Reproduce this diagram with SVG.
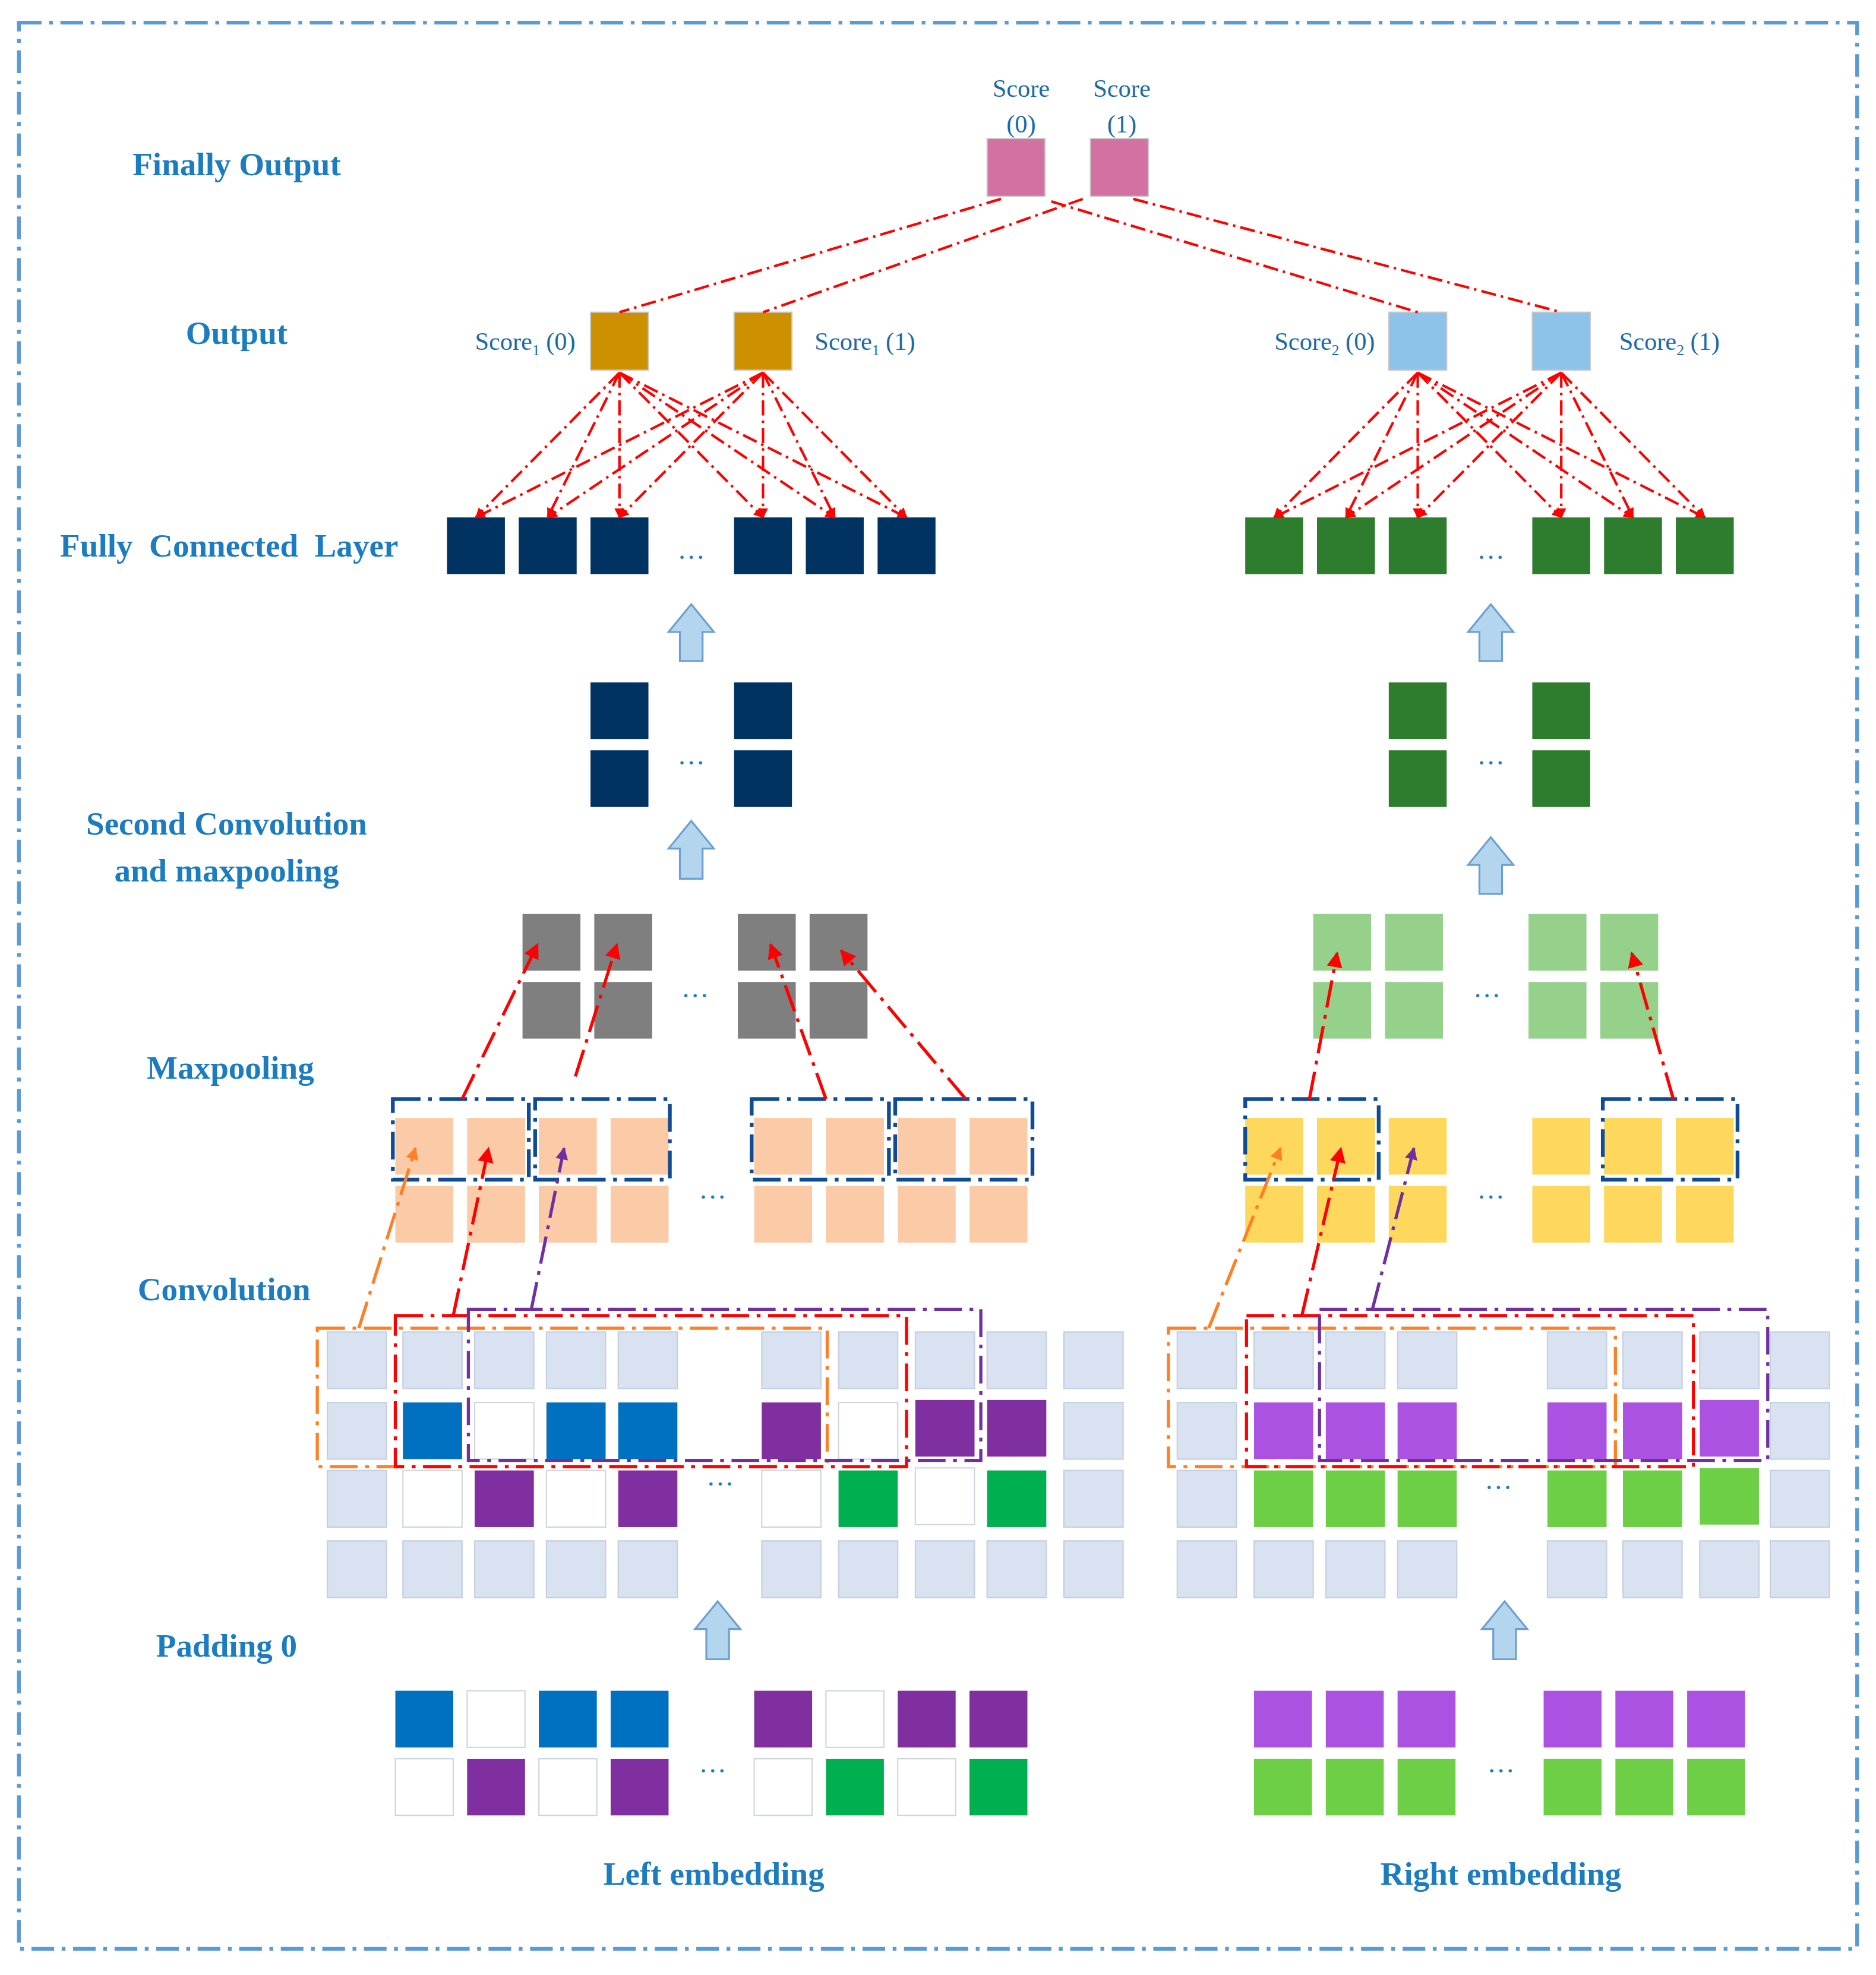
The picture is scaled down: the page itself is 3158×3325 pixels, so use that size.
<svg xmlns="http://www.w3.org/2000/svg" width="3158" height="3325" viewBox="0 0 3158 3325">
<style>
.lbl{font-family:"Liberation Serif",serif;font-weight:bold;font-size:26px;fill:#1b7cc0;text-anchor:middle}
.sc{font-family:"Liberation Serif",serif;font-size:20px;fill:#1b6aa8}
.dots{font-family:"Liberation Serif",serif;font-size:22px;fill:#1b7cc0;text-anchor:middle}
.navy{fill:#003361}.grn{fill:#2e7d2e}.gray{fill:#7f7f7f}.lgrn{fill:#95d18a}
.peach{fill:#fbcaa6}.yel{fill:#fdd85d}.pad{fill:#d9e2f1;stroke:#c4cfe0;stroke-width:1}
.blu{fill:#0070c0}.pur{fill:#7f2fa0}.wht{fill:#fff;stroke:#cfd5de;stroke-width:1}.gr2{fill:#00b050}
.vio{fill:#ab52e3}.lim{fill:#6ccf45}
.rl{stroke:#f00;stroke-width:2;fill:none;stroke-dasharray:12 4 2 4}
.ra{stroke:#f00;stroke-width:2.5;fill:none;stroke-dasharray:22 6 3 6}
.oa{stroke:#ff7f27;stroke-width:2.5;fill:none;stroke-dasharray:22 6 3 6}
.pa{stroke:#7030a0;stroke-width:2.5;fill:none;stroke-dasharray:22 6 3 6}
.bw{stroke:#0f4c96;stroke-width:3;fill:none;stroke-dasharray:22 6 3 6}
.up{fill:#b4d5ee;stroke:#6c9fd0;stroke-width:1.5}
</style>
<defs>
<marker id="ah" viewBox="0 0 10 10" refX="9" refY="5" markerWidth="5" markerHeight="5" orient="auto"><path d="M0,0L10,5L0,10Z" fill="#f00"/></marker>
<marker id="ahs" viewBox="0 0 10 10" refX="9" refY="5" markerWidth="4" markerHeight="4" orient="auto"><path d="M0,0L10,5L0,10Z" fill="#f00"/></marker>
<marker id="aho" viewBox="0 0 10 10" refX="9" refY="5" markerWidth="4" markerHeight="4" orient="auto"><path d="M0,0L10,5L0,10Z" fill="#ff7f27"/></marker>
<marker id="ahp" viewBox="0 0 10 10" refX="9" refY="5" markerWidth="4" markerHeight="4" orient="auto"><path d="M0,0L10,5L0,10Z" fill="#7030a0"/></marker>
</defs>
<rect width="3158" height="3325" fill="#fff"/>
<g transform="scale(2.1195)">
<rect x="15" y="18" width="1460" height="1530" fill="none" stroke="#5b9bd5" stroke-width="3" stroke-dasharray="18 6 3 6"/>
<g id="labels">
<text class="lbl" x="188" y="139">Finally Output</text>
<text class="lbl" x="188" y="273">Output</text>
<text class="lbl" x="182" y="442" xml:space="preserve">Fully  Connected  Layer</text>
<text class="lbl" x="180" y="663">Second Convolution</text>
<text class="lbl" x="180" y="700">and maxpooling</text>
<text class="lbl" x="183" y="857">Maxpooling</text>
<text class="lbl" x="178" y="1033">Convolution</text>
<text class="lbl" x="180" y="1316">Padding 0</text>
<text class="lbl" x="567" y="1497">Left embedding</text>
<text class="lbl" x="1192" y="1497">Right embedding</text>
</g>
<g id="final">
<rect x="784" y="110" width="46" height="46" fill="#d471a3" stroke="#c9c9c9"/>
<rect x="866" y="110" width="46" height="46" fill="#d471a3" stroke="#c9c9c9"/>
<text class="sc" x="811" y="77" text-anchor="middle">Score</text>
<text class="sc" x="811" y="105" text-anchor="middle">(0)</text>
<text class="sc" x="891" y="77" text-anchor="middle">Score</text>
<text class="sc" x="891" y="105" text-anchor="middle">(1)</text>
</g>
<g id="output">
<rect x="469" y="248" width="46" height="46" fill="#cc9000" stroke="#c9c9c9"/>
<rect x="583" y="248" width="46" height="46" fill="#cc9000" stroke="#c9c9c9"/>
<rect x="1103" y="248" width="46" height="46" fill="#8dc3e8" stroke="#c9c9c9"/>
<rect x="1217" y="248" width="46" height="46" fill="#8dc3e8" stroke="#c9c9c9"/>
<text class="sc" x="457" y="278" text-anchor="end">Score<tspan font-size="12" dy="4">1</tspan><tspan dy="-4"> (0)</tspan></text>
<text class="sc" x="647" y="278">Score<tspan font-size="12" dy="4">1</tspan><tspan dy="-4"> (1)</tspan></text>
<text class="sc" x="1092" y="278" text-anchor="end">Score<tspan font-size="12" dy="4">2</tspan><tspan dy="-4"> (0)</tspan></text>
<text class="sc" x="1286" y="278">Score<tspan font-size="12" dy="4">2</tspan><tspan dy="-4"> (1)</tspan></text>
</g>
<g id="fc">
<rect class="navy" x="355" y="411" width="46" height="45"/><rect class="navy" x="412" y="411" width="46" height="45"/><rect class="navy" x="469" y="411" width="46" height="45"/>
<rect class="navy" x="583" y="411" width="46" height="45"/><rect class="navy" x="640" y="411" width="46" height="45"/><rect class="navy" x="697" y="411" width="46" height="45"/>
<rect class="grn" x="989" y="411" width="46" height="45"/><rect class="grn" x="1046" y="411" width="46" height="45"/><rect class="grn" x="1103" y="411" width="46" height="45"/>
<rect class="grn" x="1217" y="411" width="46" height="45"/><rect class="grn" x="1274" y="411" width="46" height="45"/><rect class="grn" x="1331" y="411" width="46" height="45"/>
<text class="dots" x="549" y="444">…</text><text class="dots" x="1184" y="444">…</text>
</g>
<g id="conv2">
<rect class="navy" x="469" y="542" width="46" height="45"/><rect class="navy" x="469" y="596" width="46" height="45"/>
<rect class="navy" x="583" y="542" width="46" height="45"/><rect class="navy" x="583" y="596" width="46" height="45"/>
<rect class="grn" x="1103" y="542" width="46" height="45"/><rect class="grn" x="1103" y="596" width="46" height="45"/>
<rect class="grn" x="1217" y="542" width="46" height="45"/><rect class="grn" x="1217" y="596" width="46" height="45"/>
<text class="dots" x="549" y="607">…</text><text class="dots" x="1184" y="607">…</text>
</g>
<g id="maxpool">
<rect class="gray" x="415" y="726" width="46" height="45"/><rect class="gray" x="472" y="726" width="46" height="45"/><rect class="gray" x="586" y="726" width="46" height="45"/><rect class="gray" x="643" y="726" width="46" height="45"/>
<rect class="gray" x="415" y="780" width="46" height="45"/><rect class="gray" x="472" y="780" width="46" height="45"/><rect class="gray" x="586" y="780" width="46" height="45"/><rect class="gray" x="643" y="780" width="46" height="45"/>
<rect class="lgrn" x="1043" y="726" width="46" height="45"/><rect class="lgrn" x="1100" y="726" width="46" height="45"/><rect class="lgrn" x="1214" y="726" width="46" height="45"/><rect class="lgrn" x="1271" y="726" width="46" height="45"/>
<rect class="lgrn" x="1043" y="780" width="46" height="45"/><rect class="lgrn" x="1100" y="780" width="46" height="45"/><rect class="lgrn" x="1214" y="780" width="46" height="45"/><rect class="lgrn" x="1271" y="780" width="46" height="45"/>
<text class="dots" x="552" y="792">…</text><text class="dots" x="1181" y="792">…</text>
</g>
<g id="conv">
<rect class="peach" x="314" y="888" width="46" height="45"/><rect class="peach" x="371" y="888" width="46" height="45"/><rect class="peach" x="428" y="888" width="46" height="45"/><rect class="peach" x="485" y="888" width="46" height="45"/>
<rect class="peach" x="599" y="888" width="46" height="45"/><rect class="peach" x="656" y="888" width="46" height="45"/><rect class="peach" x="713" y="888" width="46" height="45"/><rect class="peach" x="770" y="888" width="46" height="45"/>
<rect class="peach" x="314" y="942" width="46" height="45"/><rect class="peach" x="371" y="942" width="46" height="45"/><rect class="peach" x="428" y="942" width="46" height="45"/><rect class="peach" x="485" y="942" width="46" height="45"/>
<rect class="peach" x="599" y="942" width="46" height="45"/><rect class="peach" x="656" y="942" width="46" height="45"/><rect class="peach" x="713" y="942" width="46" height="45"/><rect class="peach" x="770" y="942" width="46" height="45"/>
<rect class="yel" x="989" y="888" width="46" height="45"/><rect class="yel" x="1046" y="888" width="46" height="45"/><rect class="yel" x="1103" y="888" width="46" height="45"/>
<rect class="yel" x="1217" y="888" width="46" height="45"/><rect class="yel" x="1274" y="888" width="46" height="45"/><rect class="yel" x="1331" y="888" width="46" height="45"/>
<rect class="yel" x="989" y="942" width="46" height="45"/><rect class="yel" x="1046" y="942" width="46" height="45"/><rect class="yel" x="1103" y="942" width="46" height="45"/>
<rect class="yel" x="1217" y="942" width="46" height="45"/><rect class="yel" x="1274" y="942" width="46" height="45"/><rect class="yel" x="1331" y="942" width="46" height="45"/>
<text class="dots" x="566" y="952">…</text><text class="dots" x="1184" y="952">…</text>
<rect class="bw" x="312" y="873" width="108" height="64"/><rect class="bw" x="425" y="873" width="107" height="64"/>
<rect class="bw" x="597" y="873" width="109" height="64"/><rect class="bw" x="711" y="873" width="109" height="64"/>
<rect class="bw" x="989" y="873" width="106" height="64"/><rect class="bw" x="1273" y="873" width="107" height="64"/>
</g>
<g id="padding">
<g class="pad">
<rect x="260" y="1058" width="47" height="45"/><rect x="320" y="1058" width="47" height="45"/><rect x="377" y="1058" width="47" height="45"/><rect x="434" y="1058" width="47" height="45"/><rect x="491" y="1058" width="47" height="45"/><rect x="605" y="1058" width="47" height="45"/><rect x="666" y="1058" width="47" height="45"/><rect x="727" y="1058" width="47" height="45"/><rect x="784" y="1058" width="47" height="45"/><rect x="845" y="1058" width="47" height="45"/>
<rect x="260" y="1114" width="47" height="45"/><rect x="845" y="1114" width="47" height="45"/>
<rect x="260" y="1168" width="47" height="45"/><rect x="845" y="1168" width="47" height="45"/>
<rect x="260" y="1224" width="47" height="45"/><rect x="320" y="1224" width="47" height="45"/><rect x="377" y="1224" width="47" height="45"/><rect x="434" y="1224" width="47" height="45"/><rect x="491" y="1224" width="47" height="45"/><rect x="605" y="1224" width="47" height="45"/><rect x="666" y="1224" width="47" height="45"/><rect x="727" y="1224" width="47" height="45"/><rect x="784" y="1224" width="47" height="45"/><rect x="845" y="1224" width="47" height="45"/>
<rect x="935" y="1058" width="47" height="45"/><rect x="996" y="1058" width="47" height="45"/><rect x="1053" y="1058" width="47" height="45"/><rect x="1110" y="1058" width="47" height="45"/><rect x="1229" y="1058" width="47" height="45"/><rect x="1289" y="1058" width="47" height="45"/><rect x="1350" y="1058" width="47" height="45"/><rect x="1406" y="1058" width="47" height="45"/>
<rect x="935" y="1114" width="47" height="45"/><rect x="1406" y="1114" width="47" height="45"/>
<rect x="935" y="1168" width="47" height="45"/><rect x="1406" y="1168" width="47" height="45"/>
<rect x="935" y="1224" width="47" height="45"/><rect x="996" y="1224" width="47" height="45"/><rect x="1053" y="1224" width="47" height="45"/><rect x="1110" y="1224" width="47" height="45"/><rect x="1229" y="1224" width="47" height="45"/><rect x="1289" y="1224" width="47" height="45"/><rect x="1350" y="1224" width="47" height="45"/><rect x="1406" y="1224" width="47" height="45"/>
</g>
<rect class="blu" x="320" y="1114" width="47" height="45"/><rect class="wht" x="377" y="1114" width="47" height="45"/><rect class="blu" x="434" y="1114" width="47" height="45"/><rect class="blu" x="491" y="1114" width="47" height="45"/>
<rect class="pur" x="605" y="1114" width="47" height="45"/><rect class="wht" x="666" y="1114" width="47" height="45"/><rect class="pur" x="727" y="1112" width="47" height="45"/><rect class="pur" x="784" y="1112" width="47" height="45"/>
<rect class="wht" x="320" y="1168" width="47" height="45"/><rect class="pur" x="377" y="1168" width="47" height="45"/><rect class="wht" x="434" y="1168" width="47" height="45"/><rect class="pur" x="491" y="1168" width="47" height="45"/>
<rect class="wht" x="605" y="1168" width="47" height="45"/><rect class="gr2" x="666" y="1168" width="47" height="45"/><rect class="wht" x="727" y="1166" width="47" height="45"/><rect class="gr2" x="784" y="1168" width="47" height="45"/>
<rect class="vio" x="996" y="1114" width="47" height="45"/><rect class="vio" x="1053" y="1114" width="47" height="45"/><rect class="vio" x="1110" y="1114" width="47" height="45"/>
<rect class="vio" x="1229" y="1114" width="47" height="45"/><rect class="vio" x="1289" y="1114" width="47" height="45"/><rect class="vio" x="1350" y="1112" width="47" height="45"/>
<rect class="lim" x="996" y="1168" width="47" height="45"/><rect class="lim" x="1053" y="1168" width="47" height="45"/><rect class="lim" x="1110" y="1168" width="47" height="45"/>
<rect class="lim" x="1229" y="1168" width="47" height="45"/><rect class="lim" x="1289" y="1168" width="47" height="45"/><rect class="lim" x="1350" y="1166" width="47" height="45"/>
<text class="dots" x="572" y="1180">…</text><text class="dots" x="1190" y="1183">…</text>
<rect class="oa" x="252" y="1055" width="405" height="110"/><rect class="ra" x="314" y="1045" width="406" height="120"/><rect class="pa" x="372" y="1040" width="407" height="120"/>
<rect class="oa" x="928" y="1055" width="355" height="110"/><rect class="ra" x="990" y="1045" width="355" height="120"/><rect class="pa" x="1048" y="1040" width="356" height="120"/>
</g>
<g id="embedding">
<rect class="blu" x="314" y="1343" width="46" height="45"/><rect class="wht" x="371" y="1343" width="46" height="45"/><rect class="blu" x="428" y="1343" width="46" height="45"/><rect class="blu" x="485" y="1343" width="46" height="45"/>
<rect class="pur" x="599" y="1343" width="46" height="45"/><rect class="wht" x="656" y="1343" width="46" height="45"/><rect class="pur" x="713" y="1343" width="46" height="45"/><rect class="pur" x="770" y="1343" width="46" height="45"/>
<rect class="wht" x="314" y="1397" width="46" height="45"/><rect class="pur" x="371" y="1397" width="46" height="45"/><rect class="wht" x="428" y="1397" width="46" height="45"/><rect class="pur" x="485" y="1397" width="46" height="45"/>
<rect class="wht" x="599" y="1397" width="46" height="45"/><rect class="gr2" x="656" y="1397" width="46" height="45"/><rect class="wht" x="713" y="1397" width="46" height="45"/><rect class="gr2" x="770" y="1397" width="46" height="45"/>
<rect class="vio" x="996" y="1343" width="46" height="45"/><rect class="vio" x="1053" y="1343" width="46" height="45"/><rect class="vio" x="1110" y="1343" width="46" height="45"/>
<rect class="vio" x="1226" y="1343" width="46" height="45"/><rect class="vio" x="1283" y="1343" width="46" height="45"/><rect class="vio" x="1340" y="1343" width="46" height="45"/>
<rect class="lim" x="996" y="1397" width="46" height="45"/><rect class="lim" x="1053" y="1397" width="46" height="45"/><rect class="lim" x="1110" y="1397" width="46" height="45"/>
<rect class="lim" x="1226" y="1397" width="46" height="45"/><rect class="lim" x="1283" y="1397" width="46" height="45"/><rect class="lim" x="1340" y="1397" width="46" height="45"/>
<text class="dots" x="566" y="1408">…</text><text class="dots" x="1192" y="1408">…</text>
</g>
<g id="connectors">
<path class="rl" d="M795,158L492,248M860,158L606,248M835,160L1126,248M900,158L1240,248"/>
<g marker-end="url(#ahs)">
<path class="rl" d="M492,296L378,411"/><path class="rl" d="M492,296L435,411"/><path class="rl" d="M492,296L492,411"/><path class="rl" d="M492,296L606,411"/><path class="rl" d="M492,296L663,411"/><path class="rl" d="M492,296L720,411"/>
<path class="rl" d="M606,296L378,411"/><path class="rl" d="M606,296L435,411"/><path class="rl" d="M606,296L492,411"/><path class="rl" d="M606,296L606,411"/><path class="rl" d="M606,296L663,411"/><path class="rl" d="M606,296L720,411"/>
<path class="rl" d="M1126,296L1012,411"/><path class="rl" d="M1126,296L1069,411"/><path class="rl" d="M1126,296L1126,411"/><path class="rl" d="M1126,296L1240,411"/><path class="rl" d="M1126,296L1297,411"/><path class="rl" d="M1126,296L1354,411"/>
<path class="rl" d="M1240,296L1012,411"/><path class="rl" d="M1240,296L1069,411"/><path class="rl" d="M1240,296L1126,411"/><path class="rl" d="M1240,296L1240,411"/><path class="rl" d="M1240,296L1297,411"/><path class="rl" d="M1240,296L1354,411"/>
</g>
<g marker-end="url(#ah)">
<path class="ra" d="M367,873L427,750"/><path class="ra" d="M457,855L490,750"/><path class="ra" d="M656,873L612,750"/><path class="ra" d="M767,873L668,755"/>
<path class="ra" d="M1040,873L1062,757"/><path class="ra" d="M1329,873L1296,757"/>
<path class="ra" d="M360,1045L388,912"/><path class="ra" d="M1034,1045L1065,912"/>
</g>
<path class="oa" d="M285,1055L330,912" marker-end="url(#aho)"/><path class="oa" d="M960,1055L1017,912" marker-end="url(#aho)"/>
<path class="pa" d="M422,1040L448,912" marker-end="url(#ahp)"/><path class="pa" d="M1090,1040L1123,912" marker-end="url(#ahp)"/>
<path class="up" d="M549,480L567,502L558,502L558,525L540,525L540,502L531,502Z"/>
<path class="up" d="M549,652L567,674L558,674L558,698L540,698L540,674L531,674Z"/>
<path class="up" d="M1184,480L1202,502L1193,502L1193,525L1175,525L1175,502L1166,502Z"/>
<path class="up" d="M1184,665L1202,687L1193,687L1193,710L1175,710L1175,687L1166,687Z"/>
<path class="up" d="M570,1272L588,1294L579,1294L579,1318L561,1318L561,1294L552,1294Z"/>
<path class="up" d="M1195,1272L1213,1294L1204,1294L1204,1318L1186,1318L1186,1294L1177,1294Z"/>
</g>
</g>
</svg>
